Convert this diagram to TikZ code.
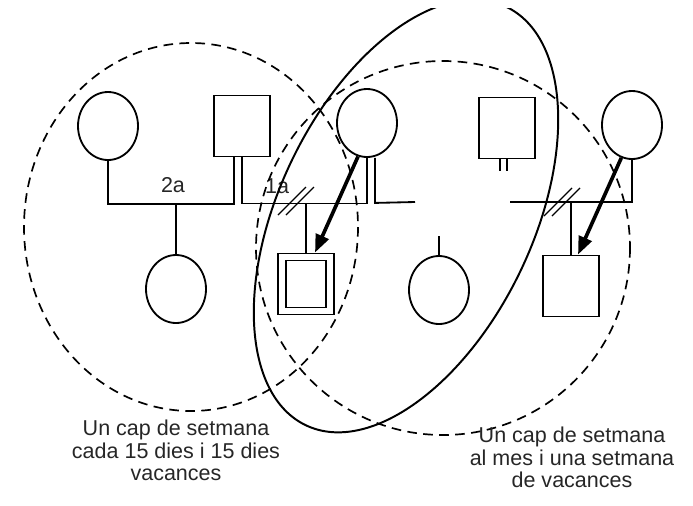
\documentclass[tikz,border=0pt]{standalone}
\usepackage{fontspec}
\setmainfont{Liberation Sans}
\usetikzlibrary{shapes.geometric,arrows.meta}

\begin{document}
\begin{tikzpicture}[
    x=0.25mm, y=-0.25mm, line width=1.3pt,
    dona/.style={draw, ellipse, minimum width=15mm, minimum height=17mm, inner sep=0},
    home/.style={draw, rectangle, minimum width=14mm, minimum height=15.25mm, inner sep=0},
    tall/.style={line width=0.9pt},
    grup/.style={dash pattern=on 2.4mm off 1.6mm, line width=1.2pt},
    fletxa/.style={line width=2.6pt, -{Triangle[length=4.5mm,width=3.4mm]}},
    nota/.style={align=center, font=\fontsize{15.3pt}{16pt}\selectfont, text=black!85, inner sep=0},
]
\useasboundingbox (0,0) rectangle (693,505);

% families
\node[dona] (f1) at (108,126) {};
\node[home] (m1) at (242,126) {};
\node[dona] (f2) at (367,123) {};
\node[home] (m2) at (507,128) {};
\node[dona] (f3) at (632,125) {};
\node[dona] (d1) at (176,289) {};
\node[home] (s1) at (306,284) {};
\node[draw, minimum width=10mm, minimum height=11.75mm, inner sep=0] (s1in) at (s1) {};
\node[dona] (d2) at (439,290) {};
\node[home] (s2) at (571,286) {};

% couple lines
\coordinate (e2) at (415,202);
\coordinate (e3) at (510,202);
\draw (f1.south) -- ++(0,43) coordinate (c1) -| ([xshift=-2mm]m1.south);
\draw (m1.south) -- ++(0,46) coordinate (c2) -| (f2.south);
\draw ([xshift=2mm]f2.south) -- ++(0,45) -- (e2);
\draw (e3) -| (f3.south);
\draw ([xshift=-1.75mm]m2.south) -- ++(0,12);
\draw (m2.south) -- ++(0,12);

% children
\draw (d1.north) -- (d1.north |- c1);
\draw (s1.north) -- (s1.north |- c2);
\draw (d2.north) -- ++(0,-19);
\draw (s2.north) -- (s2.north |- e3);

% separations
\coordinate (x1) at (296,201);
\coordinate (x2) at (562,202);
\foreach \p in {x1,x2} {
  \foreach \dx in {-4,4} {
    \draw[tall] ([shift={(\dx-14,14)}]\p) -- ++(28,-28);
  }
}

\node[nota, anchor=base] (l2a) at (173,192) {2a};
\node[nota, anchor=base] (l1a) at (277,193) {1a};

% custody
\draw[fletxa] (f2.255) -- ([xshift=2.25mm]s1.north);
\draw[fletxa] (f3.252) -- ([xshift=1.75mm]s2.north);

% groups
\draw[grup] (191,227) ellipse (167 and 184);
\draw[grup] (443,248) circle (187);
\begin{scope}
  \clip (0,8) rectangle (693,505);
  \draw[line width=1.4pt, rotate around={64.4:(406,216)}] (406,216) ellipse (232 and 127);
\end{scope}

\node[nota, anchor=north] (t1) at (176,419) {Un cap de setmana\\cada 15 dies i 15 dies\\vacances};
\node[nota, anchor=north] (t2) at (572,426) {Un cap de setmana\\al mes i una setmana\\de vacances};
\end{tikzpicture}
\end{document}
